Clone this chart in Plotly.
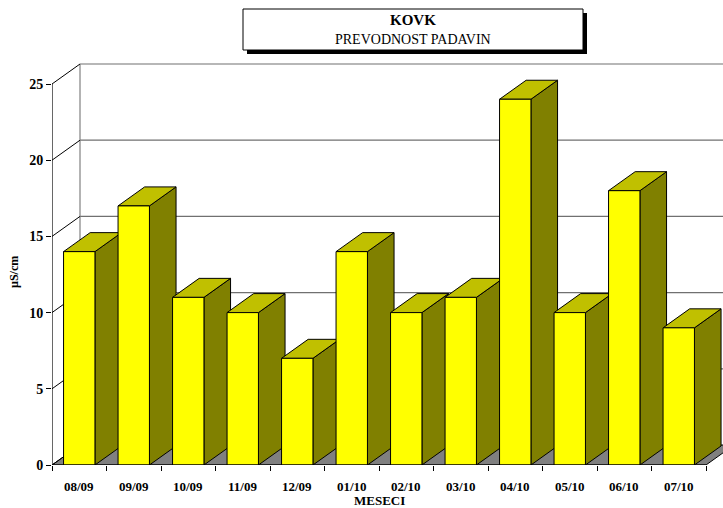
import plotly.graph_objects as go

months = ["08/09", "09/09", "10/09", "11/09", "12/09", "01/10",
          "02/10", "03/10", "04/10", "05/10", "06/10", "07/10"]
values = [14, 17, 11, 10, 7, 14, 10, 11, 24, 10, 18, 9]
y_ticks = [0, 5, 10, 15, 20, 25]

title_main = "KOVK"
title_sub = "PREVODNOST PADAVIN"
y_title = "µS/cm"
x_title = "MESECI"

# ---- geometry (pixels) ----
W, H = 723, 508
L, R, T, B = 52, 0, 60, 43
plot_w = W - L - R
plot_h = H - T - B
cat_px = 54.5
unit_px = 15.24
x0 = -0.5
x1 = x0 + plot_w / cat_px
y_top = plot_h / unit_px

DX = 28 / cat_px      # wall depth in category units
DY = 20 / unit_px     # wall depth in value units
BF = 0.95             # bar depth fraction
bdx, bdy = DX * BF, DY * BF
hw = 31.4 / cat_px / 2

FONT = "Liberation Serif"

def px(xp):
    return (xp - L) / plot_w

def py(yp):
    return (H - B - yp) / plot_h

def poly(pts):
    return "M " + " L ".join(f"{a},{b}" for a, b in pts) + " Z"

shapes = []
n = len(months)
xr = n - 0.5
ymax = max(y_ticks)

# floor
shapes.append(dict(type="path", xref="x", yref="y",
                   path=poly([(x0, 0), (xr, 0), (xr + DX, DY), (x0 + DX, DY)]),
                   fillcolor="#808080", line=dict(color="#000000", width=1), layer="above"))
# back wall gridlines
for v in y_ticks[1:]:
    shapes.append(dict(type="line", xref="x", yref="y",
                       x0=x0 + DX, y0=v + DY, x1=x1 + 1, y1=v + DY,
                       line=dict(color="#707070", width=1.2), layer="above"))
# back wall left edge
shapes.append(dict(type="line", xref="x", yref="y",
                   x0=x0 + DX, y0=DY, x1=x0 + DX, y1=ymax + DY,
                   line=dict(color="#808080", width=1.2), layer="above"))
# left wall diagonals
for v in y_ticks:
    shapes.append(dict(type="line", xref="x", yref="y",
                       x0=x0, y0=v, x1=x0 + DX, y1=v + DY,
                       line=dict(color="#000000", width=1), layer="above"))

# bars
for i, v in enumerate(values):
    a, b = i - hw, i + hw
    side = [(b, 0), (b + bdx, bdy), (b + bdx, v + bdy), (b, v)]
    top = [(a, v), (b, v), (b + bdx, v + bdy), (a + bdx, v + bdy)]
    front = [(a, 0), (b, 0), (b, v), (a, v)]
    for pts, col in ((side, "#808000"), (top, "#C0C000"), (front, "#FFFF00")):
        shapes.append(dict(type="path", xref="x", yref="y", path=poly(pts),
                           fillcolor=col, line=dict(color="#000000", width=1),
                           layer="above"))

# front axes lines
shapes.append(dict(type="line", xref="x", yref="y", x0=x0, y0=0, x1=x0, y1=ymax,
                   line=dict(color="#000000", width=1.2), layer="above"))
shapes.append(dict(type="line", xref="x", yref="y", x0=x0, y0=0, x1=xr, y1=0,
                   line=dict(color="#000000", width=1.2), layer="above"))

# title box with shadow
bx0, bx1, by0, by1 = 243, 583, 9, 50
shapes.append(dict(type="rect", xref="paper", yref="paper",
                   x0=px(bx0 + 4), x1=px(bx1 + 4), y0=py(by1 + 4), y1=py(by0 + 4),
                   fillcolor="#000000", line=dict(width=0), layer="above"))
shapes.append(dict(type="rect", xref="paper", yref="paper",
                   x0=px(bx0), x1=px(bx1), y0=py(by1), y1=py(by0),
                   fillcolor="#FFFFFF", line=dict(color="#000000", width=1), layer="above"))

annotations = []
annotations.append(dict(text=f"<b>{title_main}</b>", xref="paper", yref="paper",
                        x=px((bx0 + bx1) / 2), y=py(20), showarrow=False,
                        xanchor="center", yanchor="middle",
                        font=dict(family=FONT, size=15, color="#000")))
annotations.append(dict(text=title_sub, xref="paper", yref="paper",
                        x=px((bx0 + bx1) / 2), y=py(39), showarrow=False,
                        xanchor="center", yanchor="middle",
                        font=dict(family=FONT, size=14, color="#000")))
for i, m in enumerate(months):
    annotations.append(dict(text=f"<b>{m}</b>", xref="x", yref="paper",
                            x=i, y=py(486), showarrow=False,
                            xanchor="center", yanchor="middle",
                            font=dict(family=FONT, size=13, color="#000")))
annotations.append(dict(text=f"<b>{x_title}</b>", xref="paper", yref="paper",
                        x=px(379), y=py(500), showarrow=False,
                        xanchor="center", yanchor="middle",
                        font=dict(family=FONT, size=13, color="#000")))
annotations.append(dict(text=f"<b>{y_title}</b>", xref="paper", yref="paper",
                        x=px(14), y=py(272), showarrow=False, textangle=-90,
                        xanchor="center", yanchor="middle",
                        font=dict(family=FONT, size=12, color="#000")))

fig = go.Figure()
fig.add_trace(go.Scatter(x=[x0, x1], y=[0, y_top], mode="markers",
                         marker=dict(opacity=0), hoverinfo="skip", showlegend=False))

fig.update_layout(
    width=W, height=H,
    margin=dict(l=L, r=R, t=T, b=B, pad=0),
    paper_bgcolor="#FFFFFF", plot_bgcolor="#FFFFFF",
    showlegend=False,
    font=dict(family=FONT, color="#000"),
    xaxis=dict(range=[x0, x1], showgrid=False, zeroline=False, showline=False,
               tickmode="array", tickvals=[k - 0.5 for k in range(n + 1)],
               ticks="outside", ticklen=5, tickcolor="#000", tickwidth=1.2,
               showticklabels=False, fixedrange=True),
    yaxis=dict(range=[0, y_top], showgrid=False, zeroline=False, showline=False,
               tickmode="array", tickvals=y_ticks,
               ticktext=[f"<b>{t}</b>" for t in y_ticks],
               ticks="outside", ticklen=5, tickcolor="#000", tickwidth=1.2,
               tickfont=dict(family=FONT, size=14, color="#000"),
               fixedrange=True),
    shapes=shapes,
    annotations=annotations,
)

fig.write_html("out.html", config={"displayModeBar": False},
               post_script="document.body.style.margin='0';")
